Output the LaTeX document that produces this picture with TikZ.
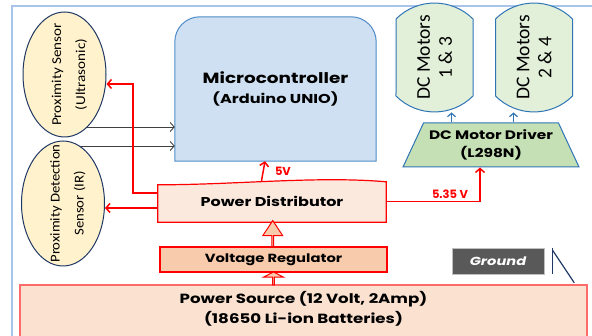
\documentclass[tikz,border=0pt]{standalone}
\usepackage{fontspec}
\setmainfont{Carlito}
\newfontfamily\boxfont[FakeStretch=1.25]{Poppins}
\newfontfamily\labelfont{Poppins}
\newfontfamily\usfont[FakeStretch=1.12]{Carlito}
\newfontfamily\irfont[FakeStretch=1.09]{Carlito}
\usetikzlibrary{shapes.geometric,shapes.misc,shapes.arrows,arrows.meta,backgrounds,calc}

\definecolor{framecolor}{RGB}{169,196,235}
\definecolor{sensorfill}{RGB}{255,242,204}
\definecolor{sensorline}{RGB}{31,56,100}
\definecolor{mcufill}{RGB}{207,224,242}
\definecolor{mculine}{RGB}{80,140,200}
\definecolor{motorfill}{RGB}{226,240,217}
\definecolor{driverfill}{RGB}{197,224,180}
\definecolor{blueline}{RGB}{46,117,182}
\definecolor{distfill}{RGB}{251,233,222}
\definecolor{regfill}{RGB}{248,203,173}
\definecolor{srcfill}{RGB}{250,225,208}
\definecolor{srcline}{RGB}{255,107,107}
\definecolor{powerred}{RGB}{255,0,0}
\definecolor{groundfill}{RGB}{89,89,89}

\begin{document}
\begin{tikzpicture}[x=1pt, y=-1pt,
    sensor/.style={ellipse, draw=sensorline, line width=1pt, fill=sensorfill,
      rotate=90, minimum width=125pt, minimum height=83pt, inner sep=0pt},
    sensortext/.style={rotate=90, inner sep=0pt, align=center},
    motor/.style={rounded rectangle, rounded rectangle arc length=90,
      draw=blueline, line width=1pt, fill=motorfill, rotate=90,
      minimum width=89pt, minimum height=77pt, inner sep=0pt,
      align=center, font=\fontsize{19.5}{22}\selectfont},
    boxtext/.style={inner sep=0pt, align=center, font=\boxfont\bfseries\fontsize{12}{15}\selectfont},
    powerbox/.style={boxtext, draw=powerred, line width=1.2pt},
    fatarrow/.style={single arrow, draw=powerred, line width=1pt, fill=regfill,
      rotate=90, inner sep=0pt, minimum width=20pt, single arrow head extend=5pt},
    redarrow/.style={draw=powerred, line width=1.5pt, -{Straight Barb[length=4pt,width=9pt]}},
    sigarrow/.style={draw=black!75, line width=0.9pt, -{Straight Barb[length=4pt,width=9pt]}},
    motorarrow/.style={draw=blueline, line width=1.2pt, -{Straight Barb[length=3.5pt,width=8pt]}},
    voltlabel/.style={text=powerred, font=\labelfont\bfseries\fontsize{11.5}{14}\selectfont, inner sep=2pt}]
  \useasboundingbox (0,0) rectangle (592,336);
  \clip (0,0) rectangle (592,336);
  % Sensors
  \node[sensor] (e1) at (64.5,74.5) {};
  \node[sensortext, font=\usfont\fontsize{13.5}{16}\selectfont] (e1text) at ([xshift=5pt]e1.center)
    {Proximity Sensor\\[8pt](Ultrasonic)};
  \node[sensor] (e2) at (63,203.5) {};
  \node[sensortext, font=\irfont\fontsize{13.5}{16}\selectfont] (e2text) at ([xshift=5pt]e2.center)
    {Proximity Detection\\[8pt]Sensor (IR)};
  % Controller and motors
  \node[boxtext, minimum width=201pt, minimum height=144pt] (mc) at (275.5,89)
    {{\fontsize{14.75}{17}\selectfont Microcontroller}\\[5pt]{\fontsize{12.9}{14}\selectfont(Arduino UNIO)}};
  \node[motor] (m1) at (434.5,57.5) {DC Motors\\1 \& 3};
  \node[motor] (m2) at (534,57.5) {DC Motors\\2 \& 4};
  \node[boxtext, trapezium, trapezium left angle=56, trapezium right angle=56,
    trapezium stretches body, minimum width=176pt, minimum height=44pt,
    draw=blueline, line width=1pt, fill=driverfill,
    font=\boxfont\bfseries\fontsize{12.3}{15}\selectfont] (drv) at (491,145)
    {DC Motor Driver\\[3pt](L298N)};
  % Power chain
  \node[boxtext, minimum width=228pt, minimum height=41pt,
    font=\boxfont\bfseries\fontsize{12.8}{15}\selectfont] (pd) at (272,201.5) {Power Distributor};
  \node[powerbox, fill=regfill, minimum width=227pt, minimum height=25pt,
    font=\boxfont\bfseries\fontsize{11.8}{14}\selectfont] (vr) at (273.5,259.5)
    {Voltage Regulator};
  \node[boxtext, minimum width=567pt, minimum height=48pt,
    font=\boxfont\bfseries\fontsize{13.3}{16}\selectfont] (ps) at (303.5,309)
    {Power Source (12 Volt, 2Amp)\\[4pt](18650 Li-ion Batteries)};
  \node[boxtext, fill=groundfill, draw=black!25, line width=0.5pt, text=white,
    minimum width=92pt, minimum height=26pt, font=\boxfont\bfseries\itshape\fontsize{11.7}{13}\selectfont]
    (gnd) at (498,261) {Ground};
  \node[fatarrow, minimum height=26pt, single arrow tip angle=67]
    (up1) at ($(vr.north)!.5!(pd.south)$) {};
  \node[fatarrow, minimum height=13pt, single arrow tip angle=125]
    (up2) at ($(vr.south)!.5!(vr.south |- ps.north)$) {};
  % Wiring
  \coordinate (turn1) at (133,84);
  \coordinate (toir) at ([yshift=-6.5pt]pd.west);
  \coordinate (us) at ([yshift=-38pt]mc.west);
  \coordinate (ir) at ([yshift=-57pt]mc.west);
  \draw[redarrow] ([yshift=8.5pt]pd.west) -| (turn1) -- (turn1 -| e1.south);
  \draw[redarrow] (toir) -- (toir -| e2.south);
  \draw[redarrow] ([xshift=-10.5pt]pd.north) -- ([xshift=-10.5pt]mc.south)
    node[voltlabel, midway, right, xshift=9pt] {5V};
  \draw[redarrow] (pd.east) -| ([xshift=-11pt]drv.south)
    node[voltlabel, pos=0.34, above] {5.35 V};
  \draw[motorarrow] ([xshift=-39.5pt]drv.north) -- ([xshift=-39.5pt]drv.north |- m1.west);
  \draw[motorarrow] ([xshift=22.5pt]drv.north) -- ([xshift=22.5pt]drv.north |- m2.west);
  \draw[draw=sensorline, line width=1.2pt] ([xshift=8pt]gnd.north east) -- ([xshift=8pt]gnd.south east);
  \draw[draw=sensorline, line width=1.2pt] ([xshift=8pt,yshift=-2pt]gnd.north east) -- ++(22,33);
  \begin{scope}[on background layer]
    \draw[framecolor, line width=2pt] (12,6) rectangle (610,350);
    \draw[draw=mculine, line width=1pt, fill=mcufill]
      (mc.south west) [rounded corners=25pt] -- (mc.north west) -- (mc.north east)
      [sharp corners] -- (mc.south east) -- cycle;
    \draw[draw=powerred, line width=1.2pt, fill=distfill]
      ([yshift=-4pt]pd.north west) .. controls +(80,0) and +(-70,-6) .. ([yshift=-1pt]pd.north east)
      -- (pd.south east) -- (pd.south west) -- cycle;
    \draw[draw=srcline, line width=2pt, fill=srcfill] (ps.north west) rectangle ([yshift=-15pt]ps.south east);
    \draw[sigarrow] (us -| e1.center) -- (us);
    \draw[sigarrow] (ir -| e2.center) -- (ir);
  \end{scope}
\end{tikzpicture}
\end{document}
